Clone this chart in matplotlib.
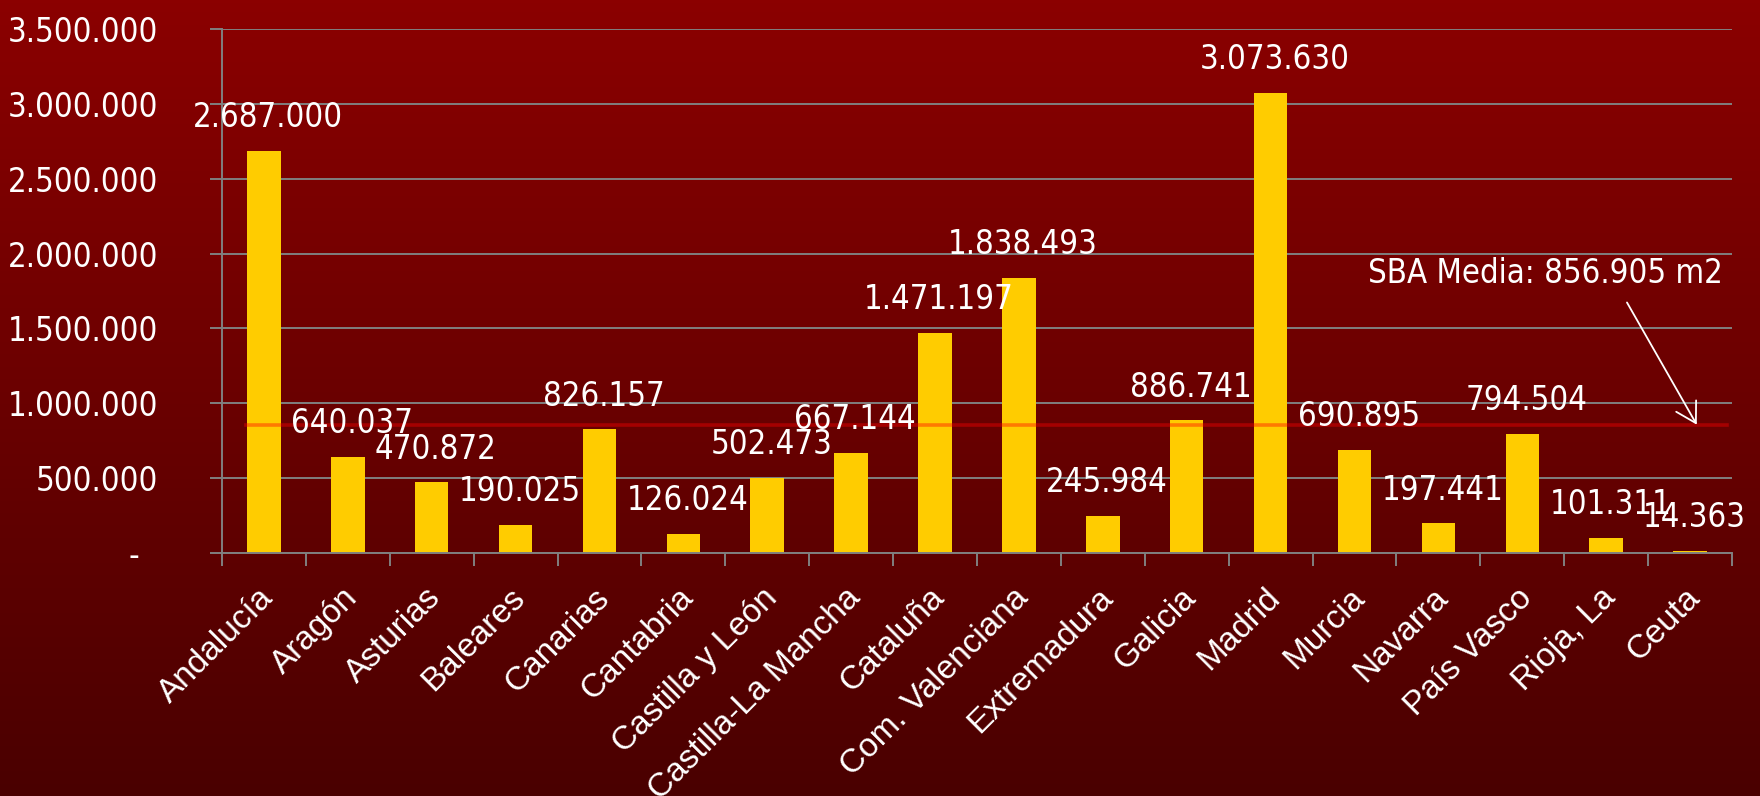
import numpy as np
import matplotlib
matplotlib.use("Agg")
import matplotlib.pyplot as plt
from matplotlib import font_manager
from matplotlib.ticker import FixedLocator, FuncFormatter
import matplotlib.transforms as mtransforms

# superficie bruta alquilable por comunidad autónoma (m2)
regiones = ["Andalucía", "Aragón", "Asturias", "Baleares", "Canarias", "Cantabria",
            "Castilla y León", "Castilla-La Mancha", "Cataluña", "Com. Valenciana",
            "Extremadura", "Galicia", "Madrid", "Murcia", "Navarra", "País Vasco",
            "Rioja, La", "Ceuta"]
sba = [2687000, 640037, 470872, 190025, 826157, 126024, 502473, 667144, 1471197,
       1838493, 245984, 886741, 3073630, 690895, 197441, 794504, 101311, 14363]
sba_media = 856905
y_ticks = [0, 500000, 1000000, 1500000, 2000000, 2500000, 3000000, 3500000]


def buscar_estrecha():
    # primera fuente estrecha/condensada normal que haya en el sistema
    for f in font_manager.fontManager.ttflist:
        nombre = (f.name + " " + f.fname).lower()
        estrecha = ("narrow" in nombre or "condensed" in nombre
                    or f.stretch in ("condensed", "semi-condensed", 500))
        if estrecha and f.style == "normal" and f.weight in (400, "normal", "regular") \
                and "semi" not in nombre and "extra" not in nombre:
            return font_manager.FontProperties(fname=f.fname)
    return None


installed = {f.name for f in font_manager.fontManager.ttflist}
SANS = "Liberation Sans" if "Liberation Sans" in installed else "DejaVu Sans"
num_fp = buscar_estrecha() or font_manager.FontProperties(family=SANS)


def miles(v):
    # formato español: punto como separador de miles, guion para el cero
    if v == 0:
        return "-  "
    return f"{int(v):,}".replace(",", ".")


fig = plt.figure(figsize=(17.6, 7.96), dpi=100)

# tamaño de las cifras: que "3.500.000" ocupe unos 150 px de ancho
renderer = fig.canvas.get_renderer()
probe = fig.text(0, 0, "3.500.000", fontproperties=num_fp, fontsize=27)
num_size = min(27, 27 * 150 / probe.get_window_extent(renderer).width)
probe.remove()

# fondo degradado granate
bg = fig.add_axes([0, 0, 1, 1], zorder=-10)
grad = np.linspace(0, 1, 256).reshape(-1, 1)
top = np.array([139, 0, 0]) / 255
bottom = np.array([74, 0, 0]) / 255
img = top + (bottom - top) * grad[..., None]
bg.imshow(img, aspect="auto", extent=[0, 1, 0, 1])
bg.axis("off")

ax = fig.add_axes([0.1261, 0.3053, 0.8580, 0.6583])
ax.patch.set_alpha(0)

x = np.arange(len(regiones))
ax.bar(x, sba, width=0.4, color="#FFCC00", zorder=3)

ax.set_xlim(-0.5, len(regiones) - 0.5)
ax.set_ylim(0, 3500000)

# rejilla y ejes en gris
ax.yaxis.set_major_locator(FixedLocator(y_ticks))
ax.yaxis.set_major_formatter(FuncFormatter(lambda v, p: miles(v)))
ax.grid(axis="y", color="#808080", linewidth=1.4, zorder=1)
for side in ["top", "right"]:
    ax.spines[side].set_visible(False)
for side in ["left", "bottom"]:
    ax.spines[side].set_color("#808080")
    ax.spines[side].set_linewidth(1.4)
    ax.spines[side].set_zorder(4)

ax.tick_params(axis="y", colors="#808080", length=9, width=1.4, pad=37,
               labelcolor="white")
for lbl in ax.get_yticklabels():
    lbl.set_fontproperties(num_fp)
    lbl.set_fontsize(num_size)

ax.set_xticks(x)
ax.set_xticks(np.arange(len(regiones) + 1) - 0.5, minor=True)
ax.tick_params(axis="x", which="major", length=0, pad=21, labelcolor="white", labelsize=24)
ax.tick_params(axis="x", which="minor", length=9, width=1.4, color="#808080")
ax.set_xticklabels(regiones, rotation=45, ha="right", rotation_mode="anchor", fontfamily=SANS)
shift = mtransforms.ScaledTranslation(-6 / 100, 0, fig.dpi_scale_trans)
for lbl in ax.get_xticklabels():
    lbl.set_transform(lbl.get_transform() + shift)

# etiquetas de valor sobre cada barra
for xi, v in zip(x, sba):
    ax.annotate(miles(v), (xi, v), xytext=(3, 12), textcoords="offset points",
                ha="center", va="bottom", color="white", fontproperties=num_fp,
                fontsize=num_size, zorder=6)

# línea de la media
ax.axhline(sba_media, xmin=0.016, xmax=0.997, color="red", alpha=0.4,
           linewidth=2.6, zorder=5)

ax.annotate("SBA Media: 856.905 m2", xy=(17.08, sba_media), xytext=(17.39, 1803000),
            ha="right", va="baseline", color="white", fontproperties=num_fp,
            fontsize=num_size,
            arrowprops=dict(arrowstyle="->,head_length=0.6,head_width=0.35", color="white",
                            lw=1.3, relpos=(0.71, 0), shrinkA=8, shrinkB=0),
            zorder=7)

fig.savefig("out.png", dpi=100)
